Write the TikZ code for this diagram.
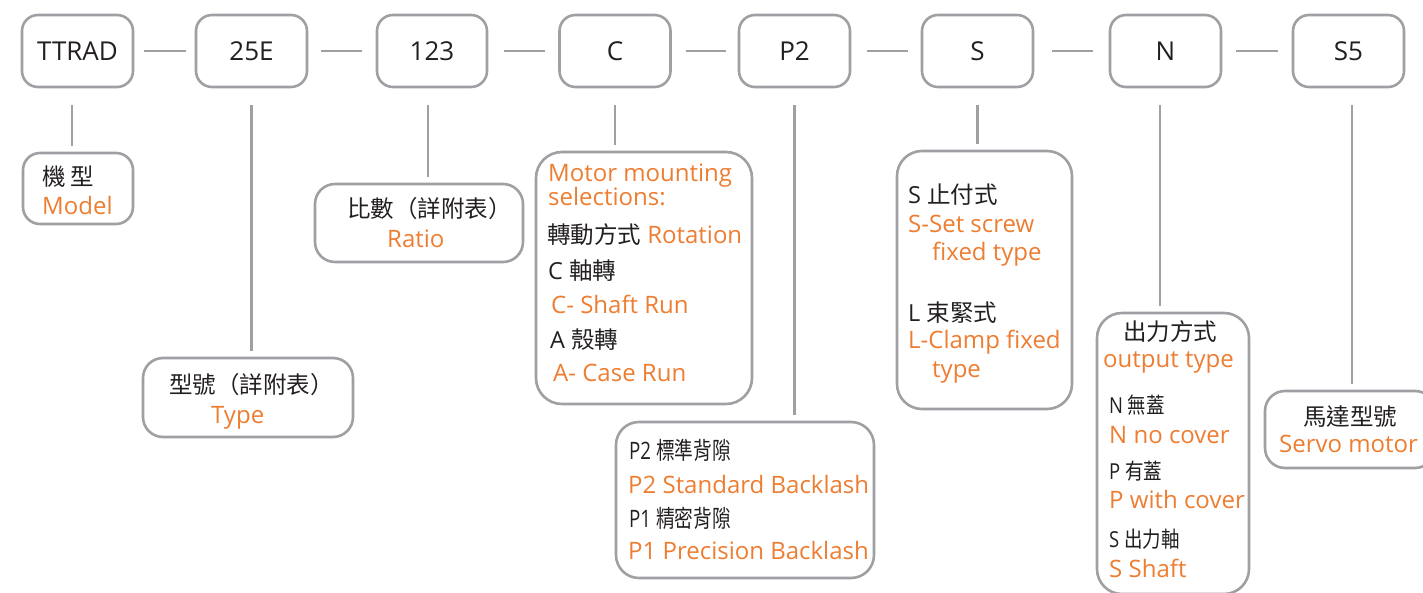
\documentclass[tikz,border=0pt]{standalone}
\usepackage{fontspec}
\usepackage{graphicx}
\setmainfont{Open Sans}
\newfontfamily\cjk{Noto Sans CJK TC}

\definecolor{frame}{RGB}{160,160,164}
\definecolor{orng}{RGB}{237,125,49}
\definecolor{ink}{RGB}{35,31,32}

\tikzset{
  codebox/.style={draw=frame, line width=2.6pt, rounded corners=16pt, minimum width=111pt, minimum height=72pt, text=ink, font=\fontsize{26}{30}\selectfont},
  infobox/.style={draw=frame, line width=2.6pt, rounded corners=20pt},
  link/.style={draw=frame, line width=2.6pt},
  cn/.style={anchor=base west, inner sep=0pt, text=ink, font=\fontsize{23.5}{28}\selectfont},
  en/.style={anchor=base west, inner sep=0pt, text=orng, font=\fontsize{24}{28}\selectfont},
  sm/.style={anchor=base west, inner sep=0pt, text=ink, font=\fontsize{#1}{28}\selectfont},
}

\begin{document}
\begin{tikzpicture}[x=1pt, y=-1pt]
\useasboundingbox (0,0) rectangle (1423,593);

% code row
\node[codebox] (ttrad) at (77.5,51) {TTRAD};
\node[codebox] (e25) at (251.5,51) {25E};
\node[codebox, minimum width=110pt] (r123) at (432,51) {123};
\node[codebox] (c) at (615,51) {C};
\node[codebox] (p2) at (794.5,51) {P2};
\node[codebox] (s) at (977.5,51) {S};
\node[codebox] (n) at (1165.5,51) {N};
\node[codebox] (s5) at (1348.5,51) {S5};

\draw[link, shorten <=10pt, shorten >=9pt] (ttrad) -- (e25);
\draw[link, shorten <=13pt, shorten >=14pt] (e25) -- (r123);
\draw[link, shorten <=16pt, shorten >=13pt] (r123) -- (c);
\draw[link, shorten <=14pt, shorten >=12pt] (c) -- (p2);
\draw[link, shorten <=16pt, shorten >=13pt] (p2) -- (s);
\draw[link, shorten <=18pt, shorten >=16pt] (s) -- (n);
\draw[link, shorten <=14pt, shorten >=14pt] (n) -- (s5);

% description boxes
\node[infobox, rounded corners=17pt, minimum width=110pt, minimum height=71pt] (model) at (78,188.5) {};
\node[infobox, minimum width=210pt, minimum height=79pt] (type) at (248,397.5) {};
\node[infobox, minimum width=208pt, minimum height=78pt] (ratio) at (419,223) {};
\node[infobox, rounded corners=26pt, minimum width=216pt, minimum height=252pt] (motor) at (644,278) {};
\node[infobox, rounded corners=23pt, minimum width=258pt, minimum height=156pt] (backl) at (745,500) {};
\node[infobox, rounded corners=25pt, minimum width=175pt, minimum height=258pt] (fix) at (984.5,280) {};
\node[infobox, rounded corners=25pt, minimum width=152pt, minimum height=281pt] (output) at (1173,453.5) {};
\node[infobox, minimum width=170pt, minimum height=77pt] (servo) at (1350,429.5) {};

\draw[link, shorten <=17pt, shorten >=6pt] ([xshift=-5.5pt]ttrad.south) -- ([xshift=-5.5pt]ttrad.south |- model.north);
\draw[link, shorten <=17pt, shorten >=6pt] (e25.south) -- (e25.south |- type.north);
\draw[link, shorten <=17pt, shorten >=6pt] ([xshift=-4pt]r123.south) -- ([xshift=-4pt]r123.south |- ratio.north);
\draw[link, shorten <=17pt, shorten >=6pt] (c.south) -- (c.south |- motor.north);
\draw[link, shorten <=17pt, shorten >=6pt] (p2.south) -- (p2.south |- backl.north);
\draw[link, shorten <=17pt, shorten >=6pt] (s.south) -- (s.south |- fix.north);
\draw[link, shorten <=17pt, shorten >=6pt] ([xshift=-5.5pt]n.south) -- ([xshift=-5.5pt]n.south |- output.north);
\draw[link, shorten <=17pt, shorten >=6pt] ([xshift=3.5pt]s5.south) -- ([xshift=3.5pt]s5.south |- servo.north);

% texts
\node[cn] (modelzh) at (42,186) {\cjk 機 型};
\node[en] (modelen) at (42,215) {Model};

\node[cn] (typezh) at (169,393) {\cjk 型號（詳附表）};
\node[en] (typeen) at (211,423) {Type};

\node[cn] (ratiozh) at (347,218) {\cjk 比數（詳附表）};
\node[en] (ratioen) at (387,248) {Ratio};

\node[en] (motor1) at (548,182) {Motor mounting};
\node[en] (motor2) at (548,206) {selections:};
\node[cn] (motor3) at (547,244) {{\cjk 轉動方式} \textcolor{orng}{\fontsize{24}{28}\selectfont Rotation}};
\node[cn] (motor4) at (548,280) {C {\cjk 軸轉}};
\node[en] (motor5) at (551,313) {C- Shaft Run};
\node[cn] (motor6) at (550,348) {A {\cjk 殼轉}};
\node[en] (motor7) at (553,381) {A- Case Run};

\node[sm=24] (backl1) at (629,459) {\scalebox{0.78}[1]{P2 {\cjk 標準背隙}}};
\node[en] (backl2) at (628,493) {P2 Standard Backlash};
\node[sm=24] (backl3) at (629,527) {\scalebox{0.78}[1]{P1 {\cjk 精密背隙}}};
\node[en] (backl4) at (628,559) {P1 Precision Backlash};

\node[cn] (fix1) at (908,204) {S {\cjk 止付式}};
\node[en] (fix2) at (908,233) {S-Set screw};
\node[en] (fix3) at (932,261) {fixed type};
\node[cn] (fix4) at (908,321) {L {\cjk 束緊式}};
\node[en] (fix5) at (908,348) {L-Clamp fixed};
\node[en] (fix6) at (932,377) {type};

\node[cn] (output1) at (1123,341) {\cjk 出力方式};
\node[en] (output2) at (1103,367) {output type};
\node[sm=22] (output3) at (1109,413) {\scalebox{0.84}[1]{N {\cjk 無蓋}}};
\node[en] (output4) at (1109,443) {N no cover};
\node[sm=22] (output5) at (1109,479) {\scalebox{0.84}[1]{P {\cjk 有蓋}}};
\node[en] (output6) at (1109,508) {P with cover};
\node[sm=22] (output7) at (1109,547) {\scalebox{0.84}[1]{S {\cjk 出力軸}}};
\node[en] (output8) at (1109,577) {S Shaft};

\node[cn] (servozh) at (1303,425) {\cjk 馬達型號};
\node[en] (servoen) at (1279,452) {Servo motor};
\end{tikzpicture}
\end{document}
